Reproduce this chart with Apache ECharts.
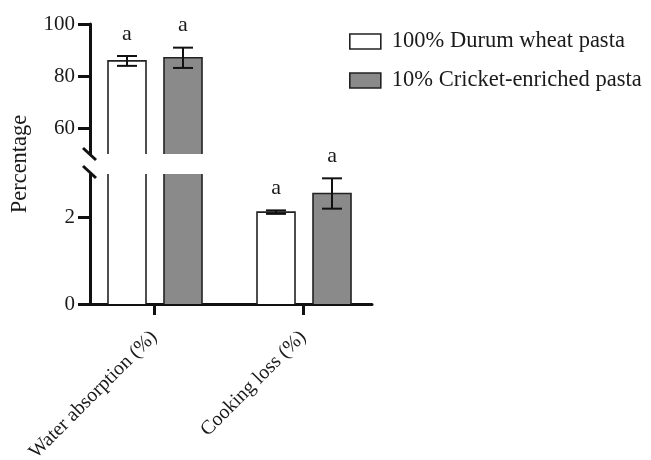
<!DOCTYPE html>
<html>
<head>
<meta charset="utf-8">
<script src="https://cdn.jsdelivr.net/npm/echarts@6/dist/echarts.min.js"></script>
<style>
  html, body { margin: 0; padding: 0; background: #fff; }
  #chart { width: 651px; height: 460px; }
</style>
</head>
<body>
<div id="chart"></div>
<script>
// Pasta quality: water absorption and cooking loss, two formulations
const categories = ['Water absorption (%)', 'Cooking loss (%)'];
const seriesNames = ['100% Durum wheat pasta', '10% Cricket-enriched pasta'];
const durumValues = [85.8, 2.12];
const durumErrors = [1.9, 0.04];
const durumLetters = ['a', 'a'];
const cricketValues = [87.0, 2.55];
const cricketErrors = [3.9, 0.35];
const cricketLetters = ['a', 'a'];

// Broken y axis: two ranges, each with its own ticks
const upperRange = [50, 100];
const upperTicks = [60, 80, 100];
const lowerRange = [0, 3];
const lowerTicks = [0, 2];
const categoryTicks = [0, 1];

const FONT = 'Liberation Serif';
const INK = '#111';
const TEXT = '#1a1a1a';
const GRAY = '#8a8a8a';

const chart = echarts.init(document.getElementById('chart'), null, { renderer: 'canvas' });

function barRenderer(offset, fill, letters) {
  return function (params, api) {
    const cs = params.coordSys;
    const yTop = cs.y, yBot = cs.y + cs.height;
    const cat = api.value(0), val = api.value(1), err = api.value(2);
    const base = api.coord([cat, 0]);
    const cx = base[0] + offset;
    const vy = api.coord([cat, val])[1];
    if (vy > yBot) return null;
    const top = Math.max(vy, yTop);
    const bottom = Math.min(base[1], yBot);
    const half = 19;
    const l = cx - half, r = cx + half;
    const children = [{
      type: 'rect',
      shape: { x: l, y: top, width: r - l, height: bottom - top },
      style: { fill: fill, stroke: null }
    }];
    const outline = { stroke: '#222', lineWidth: 1.6, fill: null };
    if (vy < yTop) {
      children.push({ type: 'line', shape: { x1: l, y1: top, x2: l, y2: bottom }, style: outline });
      children.push({ type: 'line', shape: { x1: r, y1: top, x2: r, y2: bottom }, style: outline });
    } else {
      children.push({ type: 'polyline', shape: { points: [[l, bottom], [l, top], [r, top], [r, bottom]] }, style: outline });
      const hi = api.coord([cat, val + err])[1];
      const lo = api.coord([cat, val - err])[1];
      const whisker = { stroke: INK, lineWidth: 2 };
      const cap = 10;
      children.push({ type: 'line', shape: { x1: cx, y1: hi, x2: cx, y2: lo }, style: whisker });
      children.push({ type: 'line', shape: { x1: cx - cap, y1: hi, x2: cx + cap, y2: hi }, style: whisker });
      children.push({ type: 'line', shape: { x1: cx - cap, y1: lo, x2: cx + cap, y2: lo }, style: whisker });
      children.push({
        type: 'text',
        style: {
          x: cx, y: hi - 22, text: letters[params.dataIndex],
          fill: TEXT, font: '22px "' + FONT + '"', align: 'center', verticalAlign: 'middle'
        }
      });
    }
    return { type: 'group', children: children };
  };
}

function seriesFor(gridIndex, name, values, errors, letters, offset, fill) {
  return {
    type: 'custom',
    name: name,
    xAxisIndex: gridIndex,
    yAxisIndex: gridIndex,
    itemStyle: { color: fill, borderColor: '#222', borderWidth: 1.6 },
    data: categories.map((c, i) => [i, values[i], errors[i]]),
    renderItem: barRenderer(offset, fill, letters),
    clip: false
  };
}

const yAxisCommon = (range, ticks) => ({
  type: 'value',
  min: range[0],
  max: range[1],
  splitLine: { show: false },
  axisLine: { show: true, onZero: false, lineStyle: { color: INK, width: 3 } },
  axisTick: { show: true, customValues: ticks, length: 12, lineStyle: { color: INK, width: 3 } },
  axisLabel: { customValues: ticks, margin: 15, color: TEXT, fontFamily: FONT, fontSize: 21 }
});

const xAxisCommon = {
  type: 'value',
  min: -0.4295,
  max: 1.463,
  splitLine: { show: false }
};

const option = {
  animation: false,
  backgroundColor: '#fff',
  grid: [
    { left: 90, top: 24, width: 282, height: 130, containLabel: false, outerBoundsMode: 'none' },
    { left: 90, top: 174, width: 282, height: 130, containLabel: false, outerBoundsMode: 'none' }
  ],
  xAxis: [
    Object.assign({}, xAxisCommon, {
      gridIndex: 0, show: false
    }),
    Object.assign({}, xAxisCommon, {
      gridIndex: 1,
      axisLine: { show: true, onZero: false, lineStyle: { color: INK, width: 3 } },
      axisTick: { show: true, customValues: categoryTicks, length: 11, lineStyle: { color: INK, width: 3 } },
      axisLabel: {
        customValues: categoryTicks,
        formatter: v => categories[Math.round(v)],
        rotate: 45, margin: 30, color: TEXT, fontFamily: FONT, fontSize: 20
      }
    })
  ],
  yAxis: [
    Object.assign(yAxisCommon(upperRange, upperTicks), { gridIndex: 0 }),
    Object.assign(yAxisCommon(lowerRange, lowerTicks), { gridIndex: 1 })
  ],
  legend: {
    orient: 'vertical',
    left: 344,
    top: 25,
    itemWidth: 31,
    itemHeight: 15,
    itemGap: 16,
    textStyle: { color: TEXT, fontFamily: FONT, fontSize: 22.5, padding: [0, 0, 0, 6] },
    data: [
      { name: seriesNames[0], icon: 'rect', itemStyle: { color: '#fff', borderColor: '#222', borderWidth: 1.6 } },
      { name: seriesNames[1], icon: 'rect', itemStyle: { color: GRAY, borderColor: '#222', borderWidth: 1.6 } }
    ]
  },
  graphic: [
    {
      type: 'text', x: 20, y: 164, rotation: Math.PI / 2,
      style: { text: 'Percentage', fill: TEXT, font: '22.5px "' + FONT + '"', align: 'center', verticalAlign: 'middle' }
    },
    // axis break marks
    { type: 'line', shape: { x1: 83, y1: 148, x2: 96, y2: 160 }, style: { stroke: INK, lineWidth: 3 } },
    { type: 'line', shape: { x1: 83, y1: 166, x2: 96, y2: 178 }, style: { stroke: INK, lineWidth: 3 } }
  ],
  series: [
    seriesFor(0, seriesNames[0], durumValues, durumErrors, durumLetters, -27, '#fff'),
    seriesFor(0, seriesNames[1], cricketValues, cricketErrors, cricketLetters, 29, GRAY),
    seriesFor(1, seriesNames[0], durumValues, durumErrors, durumLetters, -27, '#fff'),
    seriesFor(1, seriesNames[1], cricketValues, cricketErrors, cricketLetters, 29, GRAY)
  ]
};

chart.setOption(option);
</script>
</body>
</html>
